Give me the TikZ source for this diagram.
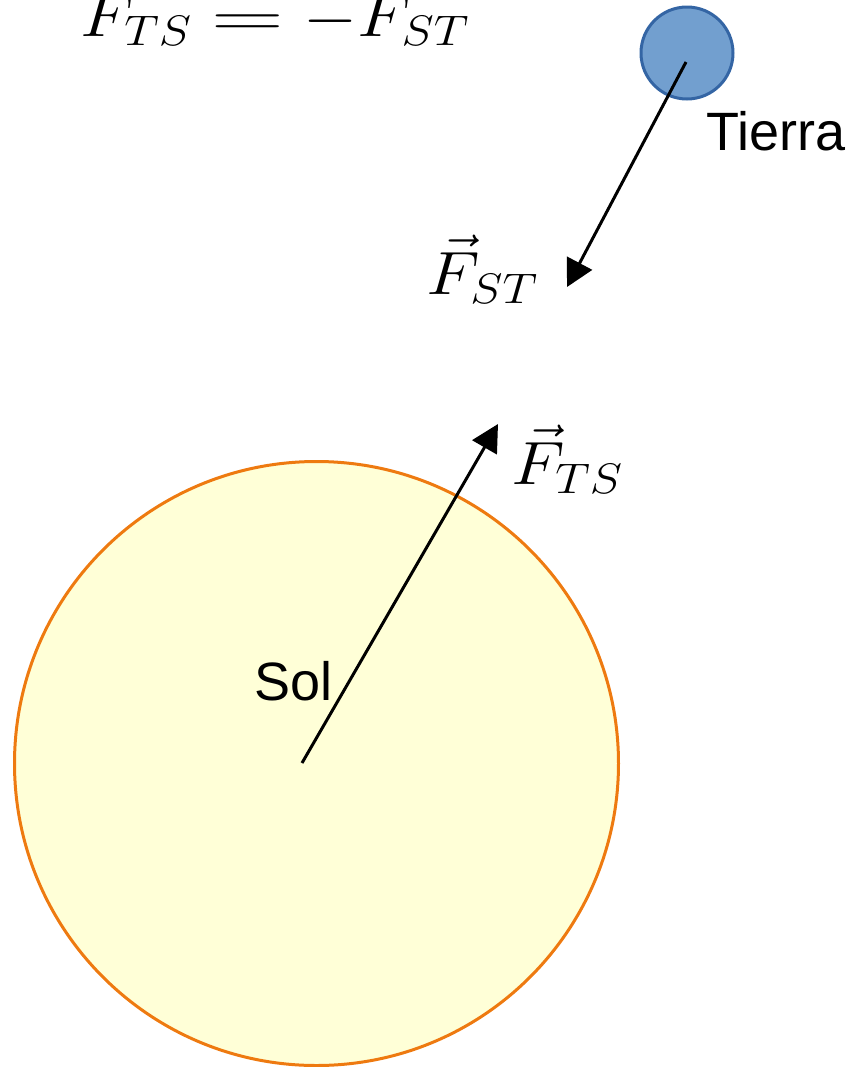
\documentclass[tikz,border=0pt]{standalone}
\usepackage{fix-cm}
\usepackage{amsmath}
\usepackage{fontspec}
\newfontfamily\labelfont{Liberation Sans}
\usetikzlibrary{arrows.meta,positioning}

\definecolor{solfill}{RGB}{255,255,215}
\definecolor{soldraw}{RGB}{238,122,16}
\definecolor{tierrafill}{RGB}{114,159,207}
\definecolor{tierradraw}{RGB}{52,101,164}

\newcommand{\widemath}[1]{\scalebox{1.14}[1]{$#1$}}

\begin{document}
\begin{tikzpicture}[x=0.5pt, y=-0.5pt,
  force/.style={line width=1.5pt, -{Triangle[length=13.5pt, width=14pt]}},
  vlabel/.style={anchor=base west, inner sep=0pt, font=\fontsize{30.5}{36}\selectfont},
  slabel/.style={anchor=base west, inner sep=0pt, font=\labelfont\fontsize{27}{32}\selectfont}]
  \useasboundingbox (0,0) rectangle (859,1067);

  % Sun
  \node[circle, draw=soldraw, fill=solfill, line width=1.5pt, inner sep=0pt, minimum size=302pt] (sol) at (316.5,763.5) {};
  \node[slabel] (lsol) at (254,700) {Sol};

  % Earth
  \node[circle, draw=tierradraw, fill=tierrafill, line width=1.5pt, inner sep=0pt, minimum size=46pt] (tierra) at (687,53) {};
  \node[slabel] (ltierra) at (706,150) {Tierra};

  % Forces
  \coordinate (solc) at (302,763);
  \coordinate (fts) at (498,424);
  \draw[force] (solc) -- (fts);
  \node[vlabel] (lfts) at (511,484) {\widemath{\vec{F}_{TS}}};

  \coordinate (tierrac) at (686,62);
  \coordinate (fst) at (567,287);
  \draw[force] (tierrac) -- (fst);
  \node[vlabel] (lfst) at (426,294) {\widemath{\vec{F}_{ST}}};

  % Third law
  \node[vlabel] (ley) at (80,36) {\widemath{\vec{F}_{TS} \mathrel{\scalebox{1.45}[1]{$=$}} -\vec{F}_{ST}}};
\end{tikzpicture}
\end{document}
